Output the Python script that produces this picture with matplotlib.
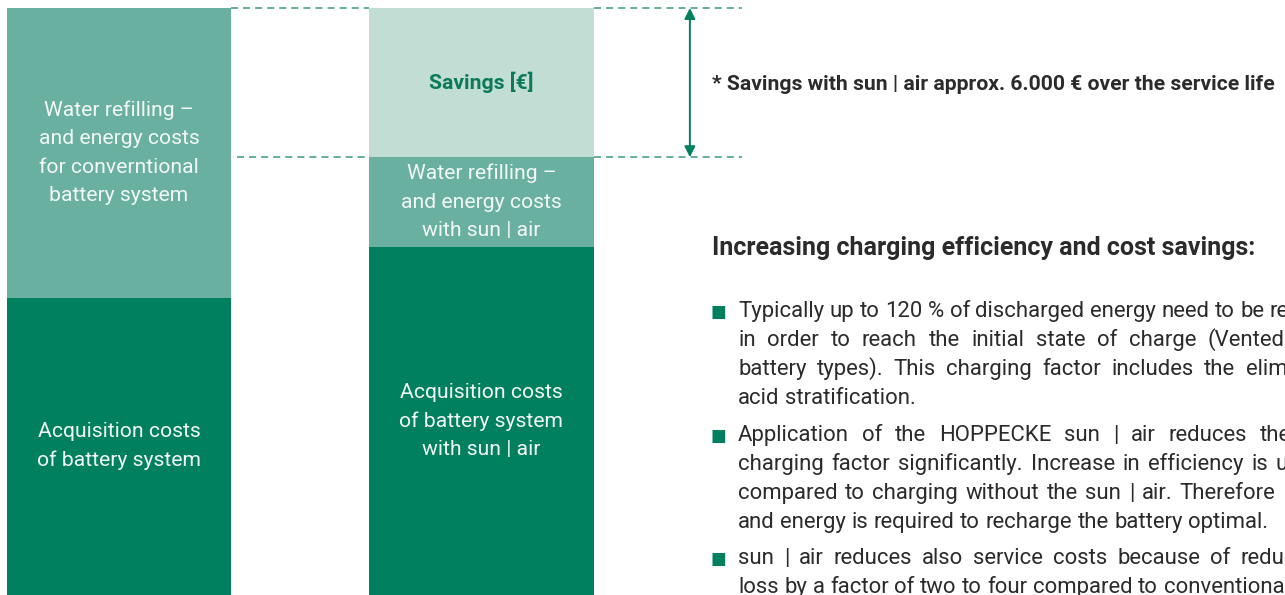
import matplotlib
matplotlib.use("Agg")
import matplotlib.pyplot as plt
from matplotlib.transforms import IdentityTransform

# ---------------- data (k€ over service life) ----------------
systems = ["conventional", "sun | air"]
acquisition = [11.95, 14.0]
water_energy = [11.65, 3.6]
savings = [0.0, 6.0]

acq_labels = ["Acquisition costs\nof battery system",
              "Acquisition costs\nof battery system\nwith sun | air"]
water_labels = ["Water refilling –\nand energy costs\nfor converntional\nbattery system",
                "Water refilling –\nand energy costs\nwith sun | air"]
savings_label = "Savings [€]"

note = "* Savings with sun | air approx. 6.000 € over the service life"
heading = "Increasing charging efficiency and cost savings:"
bullets = [
    [("Typically up to 120 % of discharged energy need to be recharged", False),
     ("in order to reach the initial state of charge (Vented lead-acid", True),
     ("battery types). This charging factor includes the elimination of", True),
     ("acid stratification.", False)],
    [("Application of the HOPPECKE sun | air reduces the required", True),
     ("charging factor significantly. Increase in efficiency is up to 20 %", True),
     ("compared to charging without the sun | air. Therefore less water", True),
     ("and energy is required to recharge the battery optimal.", False)],
    [("sun | air reduces also service costs because of reduced water", True),
     ("loss by a factor of two to four compared to conventional batteries.", False)],
]

# ---------------- style ----------------
W, H = 1285, 595
C_DARK = "#00805F"
C_MID = "#6AB0A1"
C_LIGHT = "#C2DDD4"
C_DASH = "#3A9A80"
C_TXT = "#2B2B2B"
C_WHITE = "#F2F8F5"
FONT = "Roboto"

fig = plt.figure(figsize=(W / 100, H / 100), dpi=100)
ax = fig.add_axes([0, 0, 1, 1])
ax.set_axis_off()

x = [0, 1]
width = 0.62
total_right = acquisition[1] + water_energy[1] + savings[1]
ax.set_xlim(-0.328, 3.2166)
ax.set_ylim(0, total_right * 595 / 587)

ax.bar(x, acquisition, width, color=C_DARK)
ax.bar(x, water_energy, width, bottom=acquisition, color=C_MID)
bottom3 = [a + w for a, w in zip(acquisition, water_energy)]
ax.bar(x, savings, width, bottom=bottom3, color=C_LIGHT)

lab_kw = dict(ha="center", va="center", color=C_WHITE, family=FONT,
              fontsize=15.2, fontweight="normal", linespacing=1.62)
for i in x:
    ax.text(i, acquisition[i] / 2, acq_labels[i], **lab_kw)
    ax.text(i, acquisition[i] + water_energy[i] / 2, water_labels[i], **lab_kw)
ax.text(1, bottom3[1] + savings[1] / 2, savings_label, ha="center", va="center",
        color="#0B7A5A", family=FONT, fontsize=15.2, fontweight="bold")

# dashed reference lines and the savings arrow
top = bottom3[1] + savings[1]
low = bottom3[1]
dash_kw = dict(color=C_DASH, lw=1.1, dashes=(4.6, 3.3))
ax.plot([width / 2, 1 - width / 2], [top, top], **dash_kw)
ax.plot([1 + width / 2, 1.72], [top, top], **dash_kw)
ax.plot([width / 2 + 0.017, 1 - width / 2], [low, low], **dash_kw)
ax.plot([1 + width / 2, 1.72], [low, low], **dash_kw)
ax.annotate("", xy=(1.575, top), xytext=(1.575, low),
            arrowprops=dict(arrowstyle="<|-|>", color=C_DARK, lw=1.4,
                            mutation_scale=16, shrinkA=0, shrinkB=0))

# ---------------- right-hand texts (pixel coords, top-left origin) ----------------
ident = IdentityTransform()


def ptext(px, py, s, **kw):
    return fig.text(px, H - py, s, transform=ident, **kw)


ptext(712, 84, note, ha="left", va="center", family=FONT, fontsize=15.2,
      fontweight="bold", color=C_TXT)
ptext(712, 248, heading, ha="left", va="center", family=FONT, fontsize=18,
      fontweight="bold", color=C_TXT)

fig.canvas.draw()
rend = fig.canvas.get_renderer()
body_kw = dict(family=FONT, fontsize=15.9, color=C_TXT, va="baseline", ha="left")


def tw(s):
    t = fig.text(0, 0, s, **body_kw)
    w = t.get_window_extent(rend).width
    t.remove()
    return w


space = tw("x x") - tw("xx")
X0, XR = 738, 1385
line_y = [[311, 340, 369, 398], [435, 464, 493, 522], [558, 587]]
for para, ys in zip(bullets, line_y):
    ptext(718.5, ys[0] + 1, "■", ha="center", va="center", family="DejaVu Sans",
          fontsize=12, color=C_DARK)
    for (line, just), yy in zip(para, ys):
        words = line.split(" ")
        widths = [tw(w) for w in words]
        if just and len(words) > 1:
            gap = max((XR - X0 - sum(widths)) / (len(words) - 1), space * 0.9)
        else:
            gap = space
        cx = X0
        for w, wd in zip(words, widths):
            ptext(cx, yy + 6, w, **body_kw)
            cx += wd + gap

fig.savefig("out.png", dpi=100)
